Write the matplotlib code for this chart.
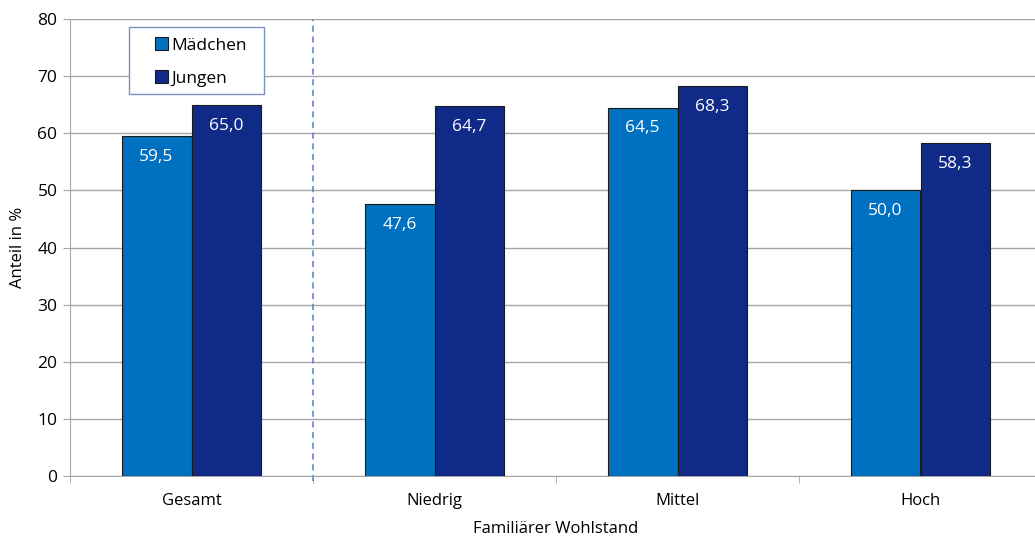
import numpy as np
import matplotlib
matplotlib.use("Agg")
import matplotlib.pyplot as plt
from matplotlib.patches import Rectangle

plt.rcParams['font.family'] = ['Open Sans', 'DejaVu Sans']

categories = ['Gesamt', 'Niedrig', 'Mittel', 'Hoch']
maedchen = [59.5, 47.6, 64.5, 50.0]
jungen = [65.0, 64.7, 68.3, 58.3]
series_names = ['Mädchen', 'Jungen']

c_m = '#0070C0'
c_j = '#0F2A87'
grid_c = '#A6A6A6'

fig = plt.figure(figsize=(10.35, 5.36), dpi=100)
ax = fig.add_axes([70 / 1035, 60 / 536, 972 / 1035, 457 / 536])

x = np.arange(len(categories))
w = 0.288
b1 = ax.bar(x - w / 2, maedchen, w, color=c_m, edgecolor='#1a1a1a', linewidth=0.8, label=series_names[0], zorder=3)
b2 = ax.bar(x + w / 2, jungen, w, color=c_j, edgecolor='#1a1a1a', linewidth=0.8, label=series_names[1], zorder=3)

for bars, vals in ((b1, maedchen), (b2, jungen)):
    for rect, v in zip(bars, vals):
        ax.annotate(f'{v:.1f}'.replace('.', ','), (rect.get_x() + rect.get_width() / 2, v),
                    xytext=(0, -15), textcoords='offset points', ha='center', va='center',
                    color='white', fontsize=12.5, zorder=4)

ax.set_xlim(-0.5, len(categories) - 0.5)
ax.set_ylim(0, 80)
ax.set_yticks(range(0, 81, 10))
ax.yaxis.grid(True, color=grid_c, linewidth=1, zorder=0)
ax.set_axisbelow(True)

# category boundaries as minor ticks, labels at centres
ax.set_xticks(x)
ax.set_xticklabels(categories, fontsize=12)
ax.set_xticks(np.arange(-0.5, len(categories), 1), minor=True)
ax.tick_params(axis='x', which='major', length=0, pad=12)
ax.tick_params(axis='x', which='minor', length=5, color=grid_c, direction='out')
ax.tick_params(axis='y', length=5, color=grid_c, labelsize=12.5, pad=4)

for s in ('top', 'right'):
    ax.spines[s].set_visible(False)
ax.spines['left'].set_color(grid_c)
ax.spines['bottom'].set_color(grid_c)

# separator between total and the subgroups
ax.axvline(0.5, ymin=-0.012, ymax=1, color='#4F81C8', linestyle=(0, (4, 3)), linewidth=1.1, clip_on=False, zorder=2)

ax.set_ylabel('Anteil in %', fontsize=12, labelpad=8)
ax.set_xlabel('Familiärer Wohlstand', fontsize=12, labelpad=9)

# legend frame drawn separately so the padding can be uneven
fig.patches.append(Rectangle((129 / 1035, (536 - 94) / 536), 135 / 1035, 67 / 536,
                             transform=fig.transFigure, facecolor='white', edgecolor='#7F8FC0',
                             linewidth=1.0, zorder=5))
leg = fig.legend(handles=[b1, b2], loc='upper left', bbox_to_anchor=(150 / 1035, (536 - 32) / 536),
                 borderaxespad=0, frameon=False, fontsize=12.5, handlelength=0.75, handleheight=0.75,
                 handletextpad=0.2, labelspacing=0.97, borderpad=0.3)
leg.set_zorder(6)
for h in leg.legend_handles:
    h.set_edgecolor('#1a1a1a')

fig.savefig('out.png', dpi=100)
